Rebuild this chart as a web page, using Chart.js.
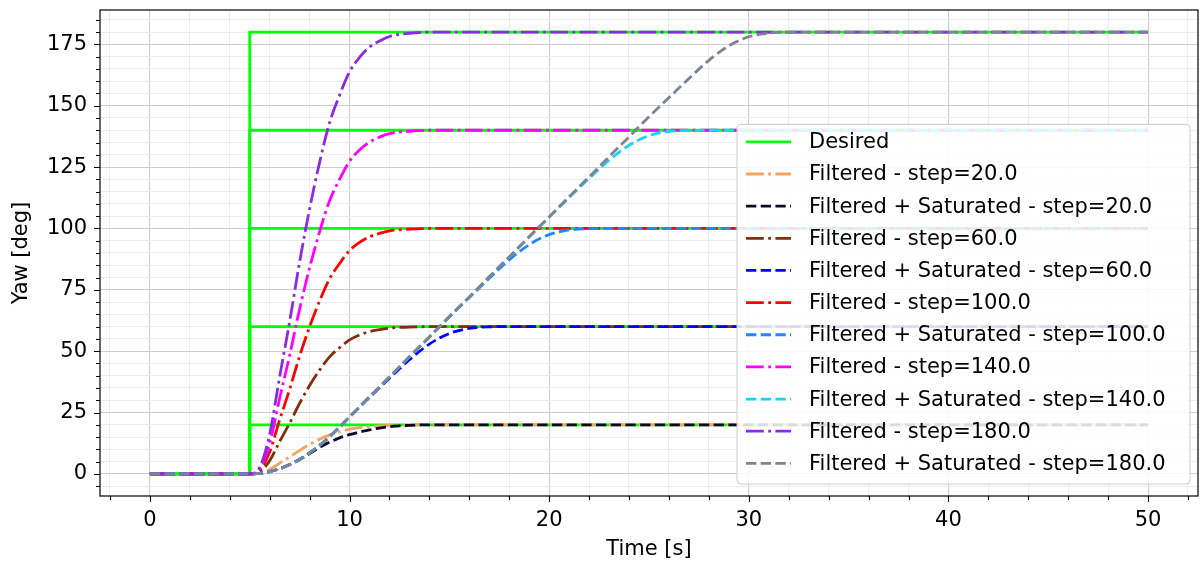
<!DOCTYPE html>
<html>
<head>
<meta charset="utf-8">
<script src="https://cdn.jsdelivr.net/npm/chart.js@4.4.1/dist/chart.umd.min.js"></script>
<style>
  html, body { margin: 0; padding: 0; background: #fff; }
  #wrap { width: 1200px; height: 563px; }
</style>
</head>
<body>
<div id="wrap"><canvas id="yaw-chart" width="1200" height="563"></canvas></div>
<script>
// desired steps (all the green lines)
const tDesired = [0, 5, 5, 50];
const desired20 = [0, 0, 20, 20];
const desired60 = [0, 0, 60, 60];
const desired100 = [0, 0, 100, 100];
const desired140 = [0, 0, 140, 140];
const desired180 = [0, 0, 180, 180];

// filtered responses
const tFilt = [0, 5, 5.5, 6, 6.5, 7, 7.5, 8, 8.5, 9, 9.5, 10, 10.5, 11, 11.5, 12, 13, 14, 50];
const filt20  = [0, 0, 0.3, 1.8, 4.4, 6.9, 9.6, 12, 14.1, 15.9, 17.1, 18.2, 18.9, 19.3, 19.6, 19.8, 19.9, 20, 20];
const filt60  = [0, 0, 0.9, 5.4, 13.2, 20.7, 28.8, 36, 42.3, 47.7, 51.4, 54.6, 56.6, 58, 58.8, 59.4, 59.8, 60, 60];
const filt100 = [0, 0, 1.5, 9, 22, 34.5, 48, 60, 70.5, 79.5, 85.7, 91, 94.3, 96.6, 98, 99, 99.7, 100, 100];
const filt140 = [0, 0, 2.1, 12.6, 30.8, 48.3, 67.2, 84, 98.7, 111.3, 120, 127.4, 132, 135.2, 137.2, 138.6, 139.6, 140, 140];
const filt180 = [0, 0, 2.7, 16.2, 39.6, 62.1, 86.4, 108, 126.9, 143.1, 154.3, 163.8, 169.7, 173.9, 176.4, 178.2, 179.5, 180, 180];

// filtered + saturated responses
const tSat20 = [0, 5, 5.5, 6, 6.5, 7, 7.5, 8, 8.5, 9, 9.5, 10, 10.5, 11, 11.5, 12, 12.5, 13, 14, 50];
const sat20  = [0, 0, 0.24, 0.95, 2.1, 3.8, 5.9, 8.3, 10.8, 12.9, 14.7, 16, 17.1, 17.9, 18.7, 19.2, 19.6, 19.8, 20, 20];
const tSat60 = [0, 5, 5.5, 6, 6.5, 7, 7.5, 8, 8.5, 9, 9.5, 10, 11, 12, 13, 14, 15, 16, 17, 18, 50];
const sat60  = [0, 0, 0.24, 0.95, 2.1, 3.8, 5.9, 8.6, 11.6, 15.1, 19.1, 23.2, 31.2, 39, 46.5, 52.9, 57.2, 59.3, 59.9, 60, 60];
const tSat100 = [0, 5, 5.5, 6, 6.5, 7, 7.5, 8, 8.5, 9, 9.5, 10, 11, 12, 13, 14, 15, 16, 17, 18, 19, 20, 21, 22, 23, 50];
const sat100  = [0, 0, 0.24, 0.95, 2.1, 3.8, 5.9, 8.6, 11.6, 15.1, 19.1, 23.2, 31.4, 39.5, 47.7, 55.8, 64, 71.9, 79.7, 87.2, 93.4, 97.5, 99.4, 99.9, 100, 100];
const tSat140 = [0, 5, 5.5, 6, 6.5, 7, 7.5, 8, 8.5, 9, 9.5, 10, 11, 12, 13, 14, 15, 16, 17, 18, 19, 20, 21, 22, 23, 24, 25, 26, 27, 28, 50];
const sat140  = [0, 0, 0.24, 0.95, 2.1, 3.8, 5.9, 8.6, 11.6, 15.1, 19.1, 23.2, 31.4, 39.5, 47.7, 55.8, 64, 72.1, 80.3, 88.4, 96.6, 104.7, 112.6, 120.4, 127.8, 133.9, 137.8, 139.5, 139.9, 140, 140];
const tSat180 = [0, 5, 5.5, 6, 6.5, 7, 7.5, 8, 8.5, 9, 9.5, 10, 11, 12, 13, 14, 15, 16, 17, 18, 19, 20, 21, 22, 23, 24, 25, 26, 27, 28, 29, 30, 31, 32, 50];
const sat180  = [0, 0, 0.24, 0.95, 2.1, 3.8, 5.9, 8.6, 11.6, 15.1, 19.1, 23.2, 31.4, 39.5, 47.7, 55.8, 64, 72.1, 80.3, 88.4, 96.6, 104.7, 112.9, 121, 129.2, 137.3, 145.5, 153.3, 161.1, 168.5, 174.4, 178.1, 179.6, 180, 180];

const xTickLabels = [0, 10, 20, 30, 40, 50];
const yTickLabels = [0, 25, 50, 75, 100, 125, 150, 175];

const DASHED = [10.3, 4.4];
const DASHDOT = [17.8, 4.4, 2.8, 4.4];

function pts(xs, ys) {
  return xs.map((x, i) => ({ x: x, y: ys[i] }));
}

function line(label, xs, ys, color, dash, showInLegend) {
  return {
    label: label,
    data: pts(xs, ys),
    borderColor: color,
    backgroundColor: color,
    borderWidth: 2.8,
    borderDash: dash,
    borderCapStyle: 'butt',
    pointRadius: 0,
    fill: false,
    tension: 0,
    cubicInterpolationMode: dash.length ? 'monotone' : 'default',
    inLegend: showInLegend
  };
}

const GREEN = '#00ff00';
const datasets = [
  line('Desired', tDesired, desired20, GREEN, [], true),
  line('Desired', tDesired, desired60, GREEN, [], false),
  line('Desired', tDesired, desired100, GREEN, [], false),
  line('Desired', tDesired, desired140, GREEN, [], false),
  line('Desired', tDesired, desired180, GREEN, [], false),
  line('Filtered - step=20.0', tFilt, filt20, '#f4a460', DASHDOT, true),
  line('Filtered + Saturated - step=20.0', tSat20, sat20, '#0a0a28', DASHED, true),
  line('Filtered - step=60.0', tFilt, filt60, '#80300a', DASHDOT, true),
  line('Filtered + Saturated - step=60.0', tSat60, sat60, '#0000ff', DASHED, true),
  line('Filtered - step=100.0', tFilt, filt100, '#ff0000', DASHDOT, true),
  line('Filtered + Saturated - step=100.0', tSat100, sat100, '#1e88ff', DASHED, true),
  line('Filtered - step=140.0', tFilt, filt140, '#ff00ff', DASHDOT, true),
  line('Filtered + Saturated - step=140.0', tSat140, sat140, '#17d4f5', DASHED, true),
  line('Filtered - step=180.0', tFilt, filt180, '#8a2be2', DASHDOT, true),
  line('Filtered + Saturated - step=180.0', tSat180, sat180, '#7e8293', DASHED, true)
];
// later series on top, like matplotlib
datasets.forEach((d, i) => { d.order = -i; });

// frame, tick marks and legend box drawn by hand
const axesDecor = {
  id: 'axesDecor',
  afterDatasetsDraw(chart) {
    const ctx = chart.ctx;
    const a = chart.chartArea;
    const xs = chart.scales.x, ys = chart.scales.y;
    ctx.save();
    ctx.strokeStyle = '#000';
    ctx.lineWidth = 1.2;
    ctx.strokeRect(a.left, a.top, a.right - a.left, a.bottom - a.top);
    ctx.lineWidth = 1.1;
    ctx.beginPath();
    for (let v = -2; v <= 52; v += 2) {
      const px = Math.round(xs.getPixelForValue(v)) + 0.5;
      const len = xTickLabels.includes(v) ? 6 : 4;
      ctx.moveTo(px, a.bottom);
      ctx.lineTo(px, a.bottom + len);
    }
    for (let v = -5; v <= 185; v += 5) {
      const py = Math.round(ys.getPixelForValue(v)) + 0.5;
      const len = yTickLabels.includes(v) ? 6 : 4;
      ctx.moveTo(a.left, py);
      ctx.lineTo(a.left - len, py);
    }
    ctx.stroke();

    // legend
    const items = chart.data.datasets.filter(d => d.inLegend);
    const rowH = 32.15;
    const boxW = 453, boxH = rowH * items.length + 6;
    const bx = a.right - 8 - boxW, by = a.bottom - 12 - boxH;
    ctx.beginPath();
    ctx.roundRect(bx, by, boxW, boxH, 4);
    ctx.fillStyle = 'rgba(255,255,255,0.85)';
    ctx.fill();
    ctx.strokeStyle = '#cccccc';
    ctx.lineWidth = 1;
    ctx.stroke();
    ctx.font = '21px "DejaVu Sans"';
    ctx.textBaseline = 'middle';
    ctx.textAlign = 'left';
    items.forEach((d, i) => {
      const y = by + 17.5 + i * rowH;
      ctx.beginPath();
      ctx.setLineDash(d.borderDash);
      ctx.strokeStyle = d.borderColor;
      ctx.lineWidth = 2.8;
      ctx.lineCap = 'butt';
      ctx.moveTo(bx + 9, y);
      ctx.lineTo(bx + 54, y);
      ctx.stroke();
      ctx.setLineDash([]);
      ctx.fillStyle = '#000';
      ctx.fillText(d.label, bx + 72, y + 1);
    });
    ctx.restore();
  }
};

Chart.defaults.font.family = '"DejaVu Sans", sans-serif';
Chart.defaults.font.size = 21;
Chart.defaults.color = '#000';

new Chart(document.getElementById('yaw-chart'), {
  type: 'line',
  data: { datasets: datasets },
  plugins: [axesDecor],
  options: {
    responsive: false,
    animation: false,
    layout: { padding: { top: 10, right: 2, left: 0, bottom: 0 } },
    plugins: {
      legend: { display: false },
      tooltip: { enabled: false }
    },
    scales: {
      x: {
        type: 'linear',
        min: -2.5,
        max: 52.5,
        afterFit: s => { s.height = 67; s.paddingLeft = 0; s.paddingRight = 0; },
        grid: {
          drawTicks: false,
          lineWidth: 1.1,
          color: c => xTickLabels.includes(c.tick.value) ? '#cdcdcd' : '#ececec'
        },
        border: { display: false },
        ticks: {
          stepSize: 2,
          includeBounds: false,
          autoSkip: false,
          maxRotation: 0,
          padding: 12,
          callback: v => xTickLabels.includes(v) ? String(v) : ''
        },
        title: { display: true, text: 'Time [s]', padding: { top: 0, bottom: 1 } }
      },
      y: {
        type: 'linear',
        min: -9,
        max: 189,
        afterFit: s => { s.width = 100; s.paddingTop = 0; s.paddingBottom = 0; },
        grid: {
          drawTicks: false,
          lineWidth: 1.1,
          color: c => yTickLabels.includes(c.tick.value) ? '#cdcdcd' : '#ececec'
        },
        border: { display: false },
        ticks: {
          stepSize: 5,
          includeBounds: false,
          autoSkip: false,
          padding: 13,
          callback: v => yTickLabels.includes(v) ? String(v) : ''
        },
        title: { display: true, text: 'Yaw [deg]', padding: { top: 9, bottom: 0 } }
      }
    }
  }
});
</script>
</body>
</html>
